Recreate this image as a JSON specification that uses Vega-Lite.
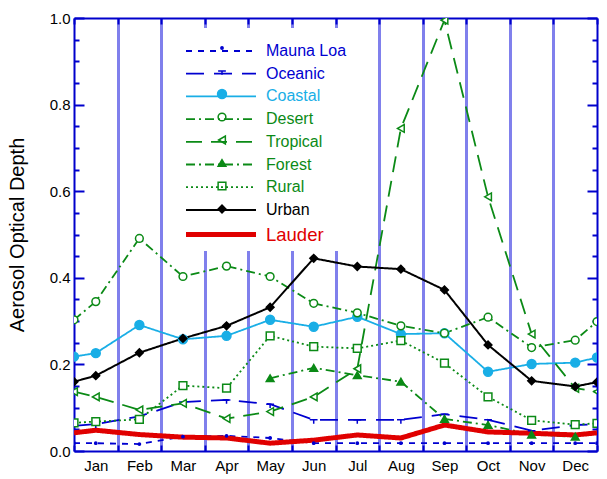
{
  "$schema": "https://vega.github.io/schema/vega-lite/v6.json",
  "width": 523,
  "height": 433,
  "autosize": {"type": "none"},
  "padding": {"left": 74, "top": 18, "right": 10, "bottom": 28},
  "config": {"view": {"stroke": null}, "font": "Liberation Sans"},
  "data": {"values": [
    {"series":"Mauna Loa","t":0,"aod":0.018},{"series":"Mauna Loa","t":0.5,"aod":0.018},{"series":"Mauna Loa","t":1.5,"aod":0.016},{"series":"Mauna Loa","t":2.5,"aod":0.033},{"series":"Mauna Loa","t":3.5,"aod":0.035},{"series":"Mauna Loa","t":4.5,"aod":0.030},{"series":"Mauna Loa","t":5.5,"aod":0.018},{"series":"Mauna Loa","t":6.5,"aod":0.018},{"series":"Mauna Loa","t":7.5,"aod":0.018},{"series":"Mauna Loa","t":8.5,"aod":0.018},{"series":"Mauna Loa","t":9.5,"aod":0.018},{"series":"Mauna Loa","t":10.5,"aod":0.018},{"series":"Mauna Loa","t":11.5,"aod":0.018},{"series":"Mauna Loa","t":12,"aod":0.018},
    {"series":"Oceanic","t":0,"aod":0.058},{"series":"Oceanic","t":0.5,"aod":0.062},{"series":"Oceanic","t":1.5,"aod":0.080},{"series":"Oceanic","t":2.5,"aod":0.113},{"series":"Oceanic","t":3.5,"aod":0.118},{"series":"Oceanic","t":4.5,"aod":0.108},{"series":"Oceanic","t":5.5,"aod":0.072},{"series":"Oceanic","t":6.5,"aod":0.072},{"series":"Oceanic","t":7.5,"aod":0.072},{"series":"Oceanic","t":8.5,"aod":0.085},{"series":"Oceanic","t":9.5,"aod":0.072},{"series":"Oceanic","t":10.5,"aod":0.047},{"series":"Oceanic","t":11.5,"aod":0.060},{"series":"Oceanic","t":12,"aod":0.062},
    {"series":"Coastal","t":0,"aod":0.218},{"series":"Coastal","t":0.5,"aod":0.226},{"series":"Coastal","t":1.5,"aod":0.291},{"series":"Coastal","t":2.5,"aod":0.258},{"series":"Coastal","t":3.5,"aod":0.266},{"series":"Coastal","t":4.5,"aod":0.303},{"series":"Coastal","t":5.5,"aod":0.287},{"series":"Coastal","t":6.5,"aod":0.310},{"series":"Coastal","t":7.5,"aod":0.270},{"series":"Coastal","t":8.5,"aod":0.272},{"series":"Coastal","t":9.5,"aod":0.183},{"series":"Coastal","t":10.5,"aod":0.201},{"series":"Coastal","t":11.5,"aod":0.204},{"series":"Coastal","t":12,"aod":0.216},
    {"series":"Desert","t":0,"aod":0.303},{"series":"Desert","t":0.5,"aod":0.345},{"series":"Desert","t":1.5,"aod":0.491},{"series":"Desert","t":2.5,"aod":0.403},{"series":"Desert","t":3.5,"aod":0.427},{"series":"Desert","t":4.5,"aod":0.403},{"series":"Desert","t":5.5,"aod":0.341},{"series":"Desert","t":6.5,"aod":0.319},{"series":"Desert","t":7.5,"aod":0.289},{"series":"Desert","t":8.5,"aod":0.272},{"series":"Desert","t":9.5,"aod":0.309},{"series":"Desert","t":10.5,"aod":0.239},{"series":"Desert","t":11.5,"aod":0.256},{"series":"Desert","t":12,"aod":0.299},
    {"series":"Tropical","t":0,"aod":0.137},{"series":"Tropical","t":0.5,"aod":0.125},{"series":"Tropical","t":1.5,"aod":0.095},{"series":"Tropical","t":2.5,"aod":0.110},{"series":"Tropical","t":3.5,"aod":0.075},{"series":"Tropical","t":4.5,"aod":0.091},{"series":"Tropical","t":5.5,"aod":0.125},{"series":"Tropical","t":6.5,"aod":0.190},{"series":"Tropical","t":7.5,"aod":0.745},{"series":"Tropical","t":8.5,"aod":0.995},{"series":"Tropical","t":9.5,"aod":0.587},{"series":"Tropical","t":10.5,"aod":0.270},{"series":"Tropical","t":11.5,"aod":0.145},{"series":"Tropical","t":12,"aod":0.137},
    {"series":"Forest","t":4.5,"aod":0.168},{"series":"Forest","t":5.5,"aod":0.192},{"series":"Forest","t":6.5,"aod":0.175},{"series":"Forest","t":7.5,"aod":0.160},{"series":"Forest","t":8.5,"aod":0.074},{"series":"Forest","t":9.5,"aod":0.060},{"series":"Forest","t":10.5,"aod":0.038},{"series":"Forest","t":11.5,"aod":0.033},
    {"series":"Rural","t":0,"aod":0.065},{"series":"Rural","t":0.5,"aod":0.068},{"series":"Rural","t":1.5,"aod":0.073},{"series":"Rural","t":2.5,"aod":0.151},{"series":"Rural","t":3.5,"aod":0.145},{"series":"Rural","t":4.5,"aod":0.266},{"series":"Rural","t":5.5,"aod":0.241},{"series":"Rural","t":6.5,"aod":0.237},{"series":"Rural","t":7.5,"aod":0.255},{"series":"Rural","t":8.5,"aod":0.203},{"series":"Rural","t":9.5,"aod":0.125},{"series":"Rural","t":10.5,"aod":0.071},{"series":"Rural","t":11.5,"aod":0.061},{"series":"Rural","t":12,"aod":0.064},
    {"series":"Urban","t":0,"aod":0.160},{"series":"Urban","t":0.5,"aod":0.174},{"series":"Urban","t":1.5,"aod":0.227},{"series":"Urban","t":2.5,"aod":0.260},{"series":"Urban","t":3.5,"aod":0.289},{"series":"Urban","t":4.5,"aod":0.332},{"series":"Urban","t":5.5,"aod":0.445},{"series":"Urban","t":6.5,"aod":0.426},{"series":"Urban","t":7.5,"aod":0.420},{"series":"Urban","t":8.5,"aod":0.372},{"series":"Urban","t":9.5,"aod":0.245},{"series":"Urban","t":10.5,"aod":0.162},{"series":"Urban","t":11.5,"aod":0.149},{"series":"Urban","t":12,"aod":0.159},
    {"series":"Lauder","t":0,"aod":0.042},{"series":"Lauder","t":0.5,"aod":0.048},{"series":"Lauder","t":1.5,"aod":0.038},{"series":"Lauder","t":2.5,"aod":0.032},{"series":"Lauder","t":3.5,"aod":0.030},{"series":"Lauder","t":4.5,"aod":0.018},{"series":"Lauder","t":5.5,"aod":0.025},{"series":"Lauder","t":6.5,"aod":0.037},{"series":"Lauder","t":7.5,"aod":0.030},{"series":"Lauder","t":8.5,"aod":0.060},{"series":"Lauder","t":9.5,"aod":0.044},{"series":"Lauder","t":10.5,"aod":0.041},{"series":"Lauder","t":11.5,"aod":0.037},{"series":"Lauder","t":12,"aod":0.042}
  ]},
  "resolve": {"axis": {"x": "independent", "y": "independent"}},
  "layer": [
    {
      "mark": {"type": "line", "clip": true},
      "encoding": {
        "x": {"field": "t", "type": "quantitative",
          "scale": {"domain": [0, 12], "nice": false, "zero": false},
          "axis": {
            "orient": "bottom", "title": null,
            "values": [0,0.5,1,1.5,2,2.5,3,3.5,4,4.5,5,5.5,6,6.5,7,7.5,8,8.5,9,9.5,10,10.5,11,11.5,12],
            "labelExpr": "datum.value % 1 === 0.5 ? ['Jan','Feb','Mar','Apr','May','Jun','Jul','Aug','Sep','Oct','Nov','Dec'][floor(datum.value)] : ''",
            "labelFontSize": 15, "labelColor": "black", "labelFont": "Liberation Sans", "labelPadding": 7, "labelFlush": false, "labelOverlap": false,
            "tickSize": {"condition": {"test": "datum.value % 1 === 0", "value": -6}, "value": 0},
            "tickColor": "#0000cc", "tickWidth": 2,
            "domainColor": "#0000cc", "domainWidth": 2,
            "grid": true, "gridColor": "#8080ec", "gridWidth": 3,
            "gridOpacity": {"condition": {"test": "datum.value % 1 === 0 && datum.value > 0 && datum.value < 12", "value": 1}, "value": 0}
          }},
        "y": {"field": "aod", "type": "quantitative",
          "scale": {"domain": [0, 1], "nice": false},
          "axis": {
            "orient": "left", "title": "Aerosol Optical Depth",
            "titleFont": "Liberation Sans", "titleFontSize": 20, "titleFontWeight": "normal", "titleColor": "black", "titlePadding": 22,
            "values": [0,0.05,0.1,0.15,0.2,0.25,0.3,0.35,0.4,0.45,0.5,0.55,0.6,0.65,0.7,0.75,0.8,0.85,0.9,0.95,1],
            "labelExpr": "abs(datum.value*5 - round(datum.value*5)) < 0.001 ? format(datum.value, '.1f') : ''",
            "labelFontSize": 15, "labelColor": "black", "labelFont": "Liberation Sans", "labelPadding": 14, "labelFlush": false, "labelOverlap": false,
            "tickSize": {"condition": {"test": "abs(datum.value*5 - round(datum.value*5)) < 0.001", "value": -10}, "value": -5},
            "tickColor": "#0000cc", "tickWidth": 2,
            "domainColor": "#0000cc", "domainWidth": 2, "grid": false
          }},
        "color": {"field": "series", "type": "nominal",
          "scale": {"domain": ["Mauna Loa","Oceanic","Coastal","Desert","Tropical","Forest","Rural","Urban","Lauder"],
                    "range": ["#0000d0","#0000d0","#19aee6","#0b8a16","#0b8a16","#0b8a16","#0b8a16","#000000","#e00000"]},
          "legend": {
            "orient": "none", "legendX": 102, "legendY": 15, "title": null,
            "symbolType": "stroke", "symbolSize": 4900, "rowPadding": 6.7, "symbolOffset": 27,
            "labelFont": "Liberation Sans", "labelFontSize": 16, "labelOffset": 37, "padding": 10,
            "zindex": 2, "symbolStrokeWidth": 1.8,
            "encode": {
              "labels": {"update": {"fill": {"scale": "color", "field": "value"}, "fontSize": {"signal": "datum.value === 'Lauder' ? 18.5 : 16"}}},
              "symbols": {"update": {"strokeWidth": {"signal": "datum.value === 'Lauder' ? 5 : (datum.value === 'Urban' ? 2 : 1.8)"}}}
            }
          }},
        "strokeDash": {"field": "series", "type": "nominal",
          "scale": {"domain": ["Mauna Loa","Oceanic","Coastal","Desert","Tropical","Forest","Rural","Urban","Lauder"],
                    "range": [[6,6],[18,10],[1,0],[9,4,2,4],[16,9],[9,4,2,4],[2,3],[1,0],[1,0]]}},
        "strokeWidth": {"condition": [{"test": "datum.series === 'Lauder'", "value": 5}, {"test": "datum.series === 'Urban'", "value": 2}], "value": 1.8}
      }
    },
    {
      "transform": [{"filter": "datum.series !== 'Lauder'"}],
      "mark": {"type": "point", "filled": false, "opacity": 1, "strokeWidth": 1.5, "size": 60, "clip": true},
      "encoding": {
        "x": {"field": "t", "type": "quantitative",
          "axis": {"orient": "top", "title": null, "labels": false,
            "values": [0,1,2,3,4,5,6,7,8,9,10,11,12], "tickSize": -6,
            "tickColor": "#0000cc", "tickWidth": 2, "domainColor": "#0000cc", "domainWidth": 2, "grid": false}},
        "y": {"field": "aod", "type": "quantitative",
          "axis": {"orient": "right", "title": null, "labels": false,
            "values": [0,0.05,0.1,0.15,0.2,0.25,0.3,0.35,0.4,0.45,0.5,0.55,0.6,0.65,0.7,0.75,0.8,0.85,0.9,0.95,1],
            "tickSize": {"condition": {"test": "abs(datum.value*5 - round(datum.value*5)) < 0.001", "value": -10}, "value": -5},
            "tickColor": "#0000cc", "tickWidth": 2, "domainColor": "#0000cc", "domainWidth": 2, "grid": false}},
        "shape": {"field": "series", "type": "nominal",
          "scale": {"domain": ["Mauna Loa","Oceanic","Coastal","Desert","Tropical","Forest","Rural","Urban"],
                    "range": ["M-0.3,0A0.3,0.3 0 1,0 0.3,0A0.3,0.3 0 1,0 -0.3,0", "M-1,0H1M0,0V1", "M-1.15,0A1.15,1.15 0 1,0 1.15,0A1.15,1.15 0 1,0 -1.15,0", "circle", "triangle-left", "triangle-up", "square", "diamond"]},
          "legend": {
            "orient": "none", "legendX": 106, "legendY": 10, "title": " ", "titleOrient": "bottom", "titleFontSize": 14, "titlePadding": 8,
            "clipHeight": 20, "rowPadding": 3, "padding": 10, "labelExpr": "''", "zindex": 1,
            "fillColor": "white", "symbolSize": 60, "symbolOffset": 25,
            "symbolStrokeWidth": 1.5, "labelFontSize": 14, "labelOffset": 128
          }},
        "stroke": {"field": "series", "type": "nominal",
          "scale": {"domain": ["Mauna Loa","Oceanic","Coastal","Desert","Tropical","Forest","Rural","Urban"],
                    "range": ["#0000d0","#0000d0","#19aee6","#0b8a16","#0b8a16","#0b8a16","#0b8a16","#000000"]}},
        "fill": {"field": "series", "type": "nominal",
          "scale": {"domain": ["Mauna Loa","Oceanic","Coastal","Desert","Tropical","Forest","Rural","Urban"],
                    "range": ["#0000d0","#0000d0","#19aee6","white","white","#0b8a16","white","#000000"]}}
      }
    }
  ]
}
